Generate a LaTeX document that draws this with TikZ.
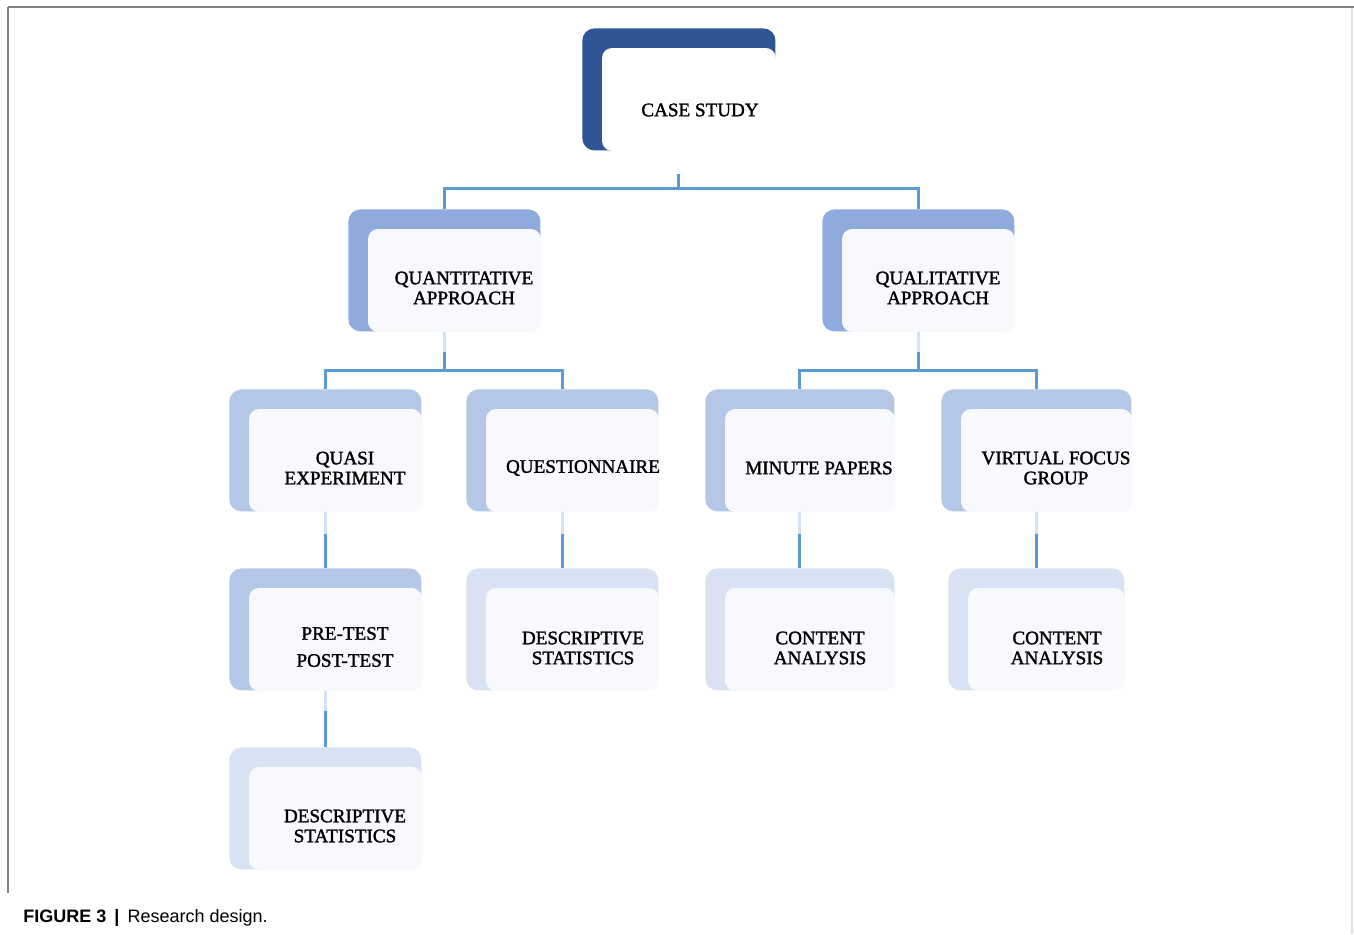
\documentclass[tikz,border=0pt]{standalone}
\usepackage{fontspec}
\setmainfont{Liberation Serif}
\newfontfamily\boxfont[FakeBold=1.6]{Liberation Serif}
\newfontfamily\capfont{Liberation Sans}
\usetikzlibrary{calc}
\definecolor{lvA}{HTML}{2F5597}
\definecolor{lvB}{HTML}{8FAADC}
\definecolor{lvC}{HTML}{B4C7E7}
\definecolor{lvD}{HTML}{D9E2F3}
\definecolor{innerc}{HTML}{F7F9FC}
\definecolor{connc}{HTML}{5B9BD5}
\definecolor{palec}{HTML}{D4E3F3}
\definecolor{framec}{HTML}{808080}
\tikzset{
  outerbox/.style={rectangle, anchor=north west, inner sep=0pt, minimum width=96pt, minimum height=61pt, rounded corners=6pt},
  innerbox/.style={rounded corners=5pt},
  lbl/.style={font=\boxfont\fontsize{9.55}{10}\selectfont, align=center, text=black, inner sep=0pt},
  conn/.style={draw=connc, line width=1.5pt},
  paleconn/.style={draw=palec, line width=1.5pt},
  framel/.style={draw=framec, line width=1pt}
}
\newcommand\drawbox[2]{% name, inner fill
  \fill[#2, innerbox] ($(#1.north west)+(20,20)$) rectangle (#1.south east);
}
\begin{document}
\begin{tikzpicture}[x=0.5pt,y=-0.5pt]
\useasboundingbox (0,0) rectangle (1354,934);
\fill[white] (0,0) rectangle (1354,934);
% frame
\draw[framel] (8,7) -- (1354,7);
\draw[framel] (8,7) -- (8,893);
\draw[draw=black!12, line width=1pt] (1352,8) -- (1352,934);

% boxes
\node[outerbox, fill=lvA, minimum width=96.5pt] (cs) at (582,28) {};
\node[outerbox, fill=lvB] (qn) at (348,209) {};
\node[outerbox, fill=lvB] (ql) at (822,209) {};
\node[outerbox, fill=lvC] (qe) at (229,389) {};
\node[outerbox, fill=lvC] (qu) at (466,389) {};
\node[outerbox, fill=lvC, minimum width=94.5pt] (mp) at (705,389) {};
\node[outerbox, fill=lvC, minimum width=95pt] (vf) at (941,389) {};
\node[outerbox, fill=lvC] (pp) at (229,568) {};
\node[outerbox, fill=lvD] (ds1) at (466,568) {};
\node[outerbox, fill=lvD, minimum width=94.5pt] (ca1) at (705,568) {};
\node[outerbox, fill=lvD, minimum width=88pt] (ca2) at (948,568) {};
\node[outerbox, fill=lvD] (ds2) at (229,747) {};

\drawbox{cs}{white}
\drawbox{qn}{innerc}
\drawbox{ql}{innerc}
\drawbox{qe}{innerc}
\drawbox{qu}{innerc}
\drawbox{mp}{innerc}
\drawbox{vf}{innerc}
\drawbox{pp}{innerc}
\drawbox{ds1}{innerc}
\drawbox{ca1}{innerc}
\drawbox{ca2}{innerc}
\drawbox{ds2}{innerc}

% labels
\node[lbl] (tcs) at (700,110) {CASE STUDY};
\node[lbl] (tqn) at (464,288) {QUANTITATIVE\\APPROACH};
\node[lbl] (tql) at (938,288) {QUALITATIVE\\APPROACH};
\node[lbl] (tqe) at (345,468) {QUASI\\EXPERIMENT};
\node[lbl] (tqu) at (583,468) {QUESTIONNAIRE};
\node[lbl] (tmp) at (819,468) {MINUTE PAPERS};
\node[lbl] (tvf) at (1056,468) {VIRTUAL FOCUS\\GROUP};
\node[lbl, font=\boxfont\fontsize{9.55}{13.5}\selectfont] (tpp) at (345,647) {PRE-TEST\\POST-TEST};
\node[lbl] (tds1) at (583,648) {DESCRIPTIVE\\STATISTICS};
\node[lbl] (tca1) at (820,648) {CONTENT\\ANALYSIS};
\node[lbl] (tca2) at (1057,648) {CONTENT\\ANALYSIS};
\node[lbl] (tds2) at (345,826) {DESCRIPTIVE\\STATISTICS};

% connectors
\coordinate (j1) at ($(cs.south)+(0,38)$);
\draw[conn] ($(cs.south)+(0,23)$) -- (j1);
\draw[conn] (j1) -| (qn.north);
\draw[conn] (j1) -| (ql.north);

\coordinate (j2) at ($(qn.south)+(0,39)$);
\draw[paleconn] (qn.south) -- ($(qn.south)+(0,20)$);
\draw[conn] ($(qn.south)+(0,20)$) -- (j2);
\draw[conn] (j2) -| (qe.north);
\draw[conn] (j2) -| (qu.north);

\coordinate (j3) at ($(ql.south)+(0,39)$);
\draw[paleconn] (ql.south) -- ($(ql.south)+(0,20)$);
\draw[conn] ($(ql.south)+(0,20)$) -- (j3);
\draw[conn] (j3) -| (mp.north);
\draw[conn] (j3) -| (vf.north);

\draw[paleconn] (qe.south) -- ($(qe.south)+(0,22)$);
\draw[conn] ($(qe.south)+(0,22)$) -- (pp.north);
\draw[paleconn] (qu.south) -- ($(qu.south)+(0,22)$);
\draw[conn] ($(qu.south)+(0,22)$) -- (ds1.north);
\draw[paleconn] (mp.south) -- ($(mp.south)+(0,22)$);
\draw[conn] ($(mp.south)+(0,22)$) -- (ca1.north);
\draw[paleconn] (vf.south) -- ($(vf.south)+(0,22)$);
\draw[conn] ($(vf.south)+(0,22)$) -- (ca2.north);
\draw[paleconn] (pp.south) -- ($(pp.south)+(0,20)$);
\draw[conn] ($(pp.south)+(0,20)$) -- (ds2.north);

% caption
\node[anchor=west, inner sep=0pt, font=\capfont\fontsize{9.0}{11}\selectfont] (cap) at (23,918)
  {\textbf{FIGURE 3}\hspace{0.45em}\textbf{|}\hspace{0.45em}Research design.};
\end{tikzpicture}
\end{document}
